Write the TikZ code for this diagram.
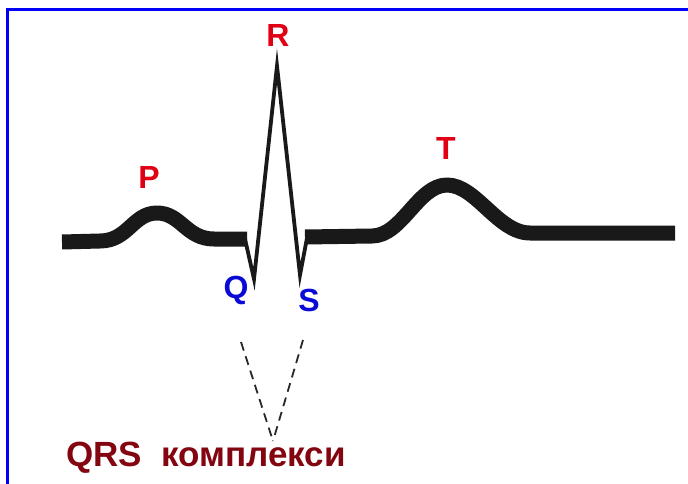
\documentclass[tikz,border=0pt]{standalone}
\usepackage{fontspec}
\setmainfont{Liberation Sans}
\definecolor{wavered}{RGB}{225,0,20}
\definecolor{waveblue}{RGB}{10,10,215}
\definecolor{captionred}{RGB}{130,5,15}
\definecolor{frameblue}{RGB}{0,0,250}
\definecolor{dashgray}{RGB}{40,40,40}
\begin{document}
\begin{tikzpicture}[x=1pt,y=-1pt,
  lbl/.style={anchor=base,inner sep=0pt,font=\fontsize{32}{38}\selectfont\bfseries},
  thickwave/.style={line width=15pt,line cap=butt,line join=round,black!90},
  thinwave/.style={line width=3.8pt,line join=miter,miter limit=20,black!90},
  guide/.style={line width=1.8pt,dashgray,dash pattern=on 9pt off 6pt}]
\useasboundingbox (0,0) rectangle (688,484);
\fill[white] (0,0) rectangle (688,484);
% frame
\draw[frameblue,line width=3pt] (7.5,484) -- (7.5,9.5) -- (688,9.5);
% P wave segment
\draw[thickwave] (62,242) -- (100,241)
  .. controls (128,241) and (133,213) .. (157,213)
  .. controls (181,213) and (186,239) .. (214,239) -- (247,239);
% QRS
\coordinate (q0) at (245,239);
\coordinate (qq) at (254,279);
\coordinate (rr) at (277,66);
\coordinate (ss) at (300,275);
\coordinate (s0) at (307,238);
\draw[thinwave] (q0) -- (qq) -- (rr) -- (ss) -- (s0);
% T wave segment
\draw[thickwave] (305,237) -- (372,236)
  .. controls (402,236) and (418,185) .. (447,185)
  .. controls (476,185) and (498,233) .. (530,233) -- (675,233);
% labels
\node[lbl,wavered] (R) at (278,47) {R};
\node[lbl,wavered] (P) at (149,188) {P};
\node[lbl,wavered] (T) at (446,160) {T};
\node[lbl,waveblue] (Q) at (236,298) {Q};
\node[lbl,waveblue] (S) at (309,311) {S};
% dashed guides
\coordinate (gl) at (241,342);
\coordinate (gr) at (303,340);
\coordinate (gt) at (273,441);
\draw[guide] (gl) -- (gt);
\draw[guide] (gr) -- (gt);
% caption
\node[anchor=base west,inner sep=0pt,captionred,font=\fontsize{35}{42}\selectfont\bfseries] (cap) at (66,466) {QRS\ \ комплекси};
\end{tikzpicture}
\end{document}
